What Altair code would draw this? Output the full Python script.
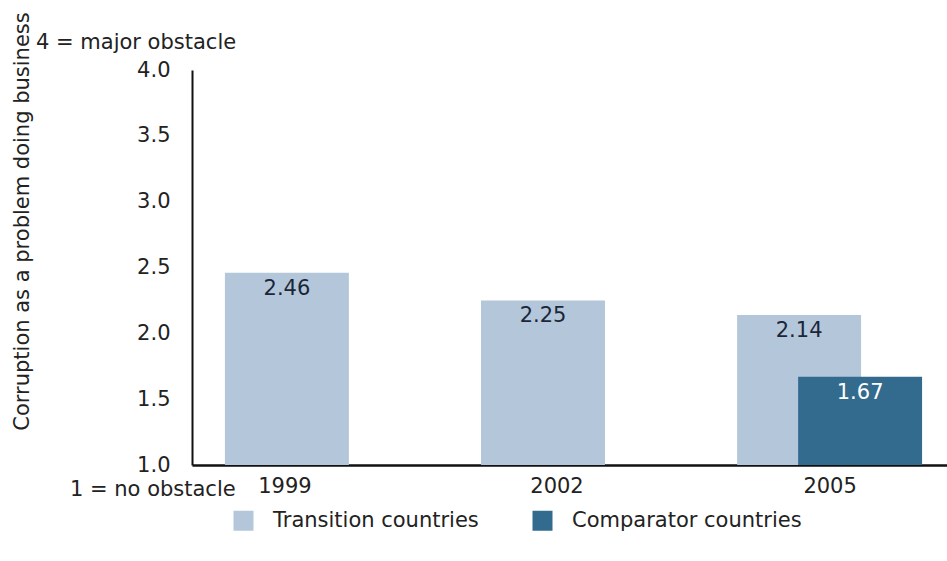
import altair as alt
import pandas as pd

years = ["1999", "2002", "2005"]
transition_values = [2.46, 2.25, 2.14]
comparator_years = ["2005"]
comparator_values = [1.67]
series_names = ["Transition countries", "Comparator countries"]
series_colors = ["#b3c6da", "#336b8e"]
y_ticks = [1.0, 1.5, 2.0, 2.5, 3.0, 3.5, 4.0]
y_title = "Corruption as a problem doing business"
top_note = ["4 = major obstacle"]
bottom_note = ["1 = no obstacle"]

df_t = pd.DataFrame({"year": years, "value": transition_values,
                     "series": [series_names[0]] * len(years)})
df_c = pd.DataFrame({"year": comparator_years, "value": comparator_values,
                     "series": [series_names[1]] * len(comparator_years)})
df_top = pd.DataFrame({"t": top_note})
df_bot = pd.DataFrame({"t": bottom_note})

FONT = "DejaVu Sans"
FS = 21
TXT = "#222222"

xscale = alt.Scale(domain=years, paddingInner=0.516, paddingOuter=0.232, align=0.277)
yscale = alt.Scale(domain=[1, 4], nice=False)

x_enc = alt.X(
    "year:N", scale=xscale,
    axis=alt.Axis(
        title=None, labelAngle=0, ticks=False, tickSize=0, grid=False,
        domainColor="#111111", domainWidth=2.5,
        labelFont=FONT, labelFontSize=FS, labelColor=TXT, labelPadding=10,
        labelOffset={"condition": [
            {"test": "datum.value == '2002'", "value": 14},
            {"test": "datum.value == '2005'", "value": 31}],
            "value": -2},
    ),
)
y_enc = alt.Y(
    "value:Q", scale=yscale,
    axis=alt.Axis(
        values=y_ticks, format=".1f", ticks=False, tickSize=0, grid=False,
        domainColor="#111111", domainWidth=2,
        labelFont=FONT, labelFontSize=FS, labelColor=TXT, labelPadding=22,
        title=y_title, titleFont=FONT, titleFontSize=FS, titleFontWeight="normal",
        titleColor=TXT, titleAngle=270, titleX=-170, titleY=151,
        titleAlign="center", titleBaseline="middle",
    ),
)
color_enc = alt.Color(
    "series:N",
    scale=alt.Scale(domain=series_names, range=series_colors),
    legend=alt.Legend(
        title=None, orient="none", direction="horizontal",
        legendX=41, legendY=440, symbolType="square", symbolSize=400,
        symbolStrokeWidth=0, labelFont=FONT, labelFontSize=FS, labelColor=TXT,
        labelOffset=19, columnPadding=53, labelLimit=0,
    ),
)

bars_t = alt.Chart(df_t).mark_bar().encode(x=x_enc, y=y_enc, y2=alt.datum(1), color=color_enc)
bars_c = alt.Chart(df_c).mark_bar(xOffset=61).encode(x=x_enc, y=y_enc, y2=alt.datum(1), color=color_enc)

lab_t = alt.Chart(df_t).mark_text(baseline="top", dy=5, font=FONT, fontSize=FS, color="#1b2638").encode(
    x=x_enc, y=y_enc, text=alt.Text("value:Q", format=".2f"))
lab_c = alt.Chart(df_c).mark_text(baseline="top", dy=5, xOffset=61, font=FONT, fontSize=FS, color="white").encode(
    x=x_enc, y=y_enc, text=alt.Text("value:Q", format=".2f"))

note_top = alt.Chart(df_top).mark_text(align="left", baseline="middle", font=FONT, fontSize=FS, color=TXT).encode(
    x=alt.value(-156), y=alt.value(-27), text="t:N")
note_bot = alt.Chart(df_bot).mark_text(align="left", baseline="middle", font=FONT, fontSize=FS, color=TXT).encode(
    x=alt.value(-122), y=alt.value(420), text="t:N")

chart = alt.layer(bars_t, bars_c, lab_t, lab_c, note_top, note_bot).properties(
    width=755, height=395,
    autosize=alt.AutoSizeParams(type="none"),
    padding={"left": 192, "top": 70, "right": 0, "bottom": 96},
    background="white",
).configure_view(stroke=None)

chart.save("out.html", embed_options={"renderer": "svg", "actions": False})
